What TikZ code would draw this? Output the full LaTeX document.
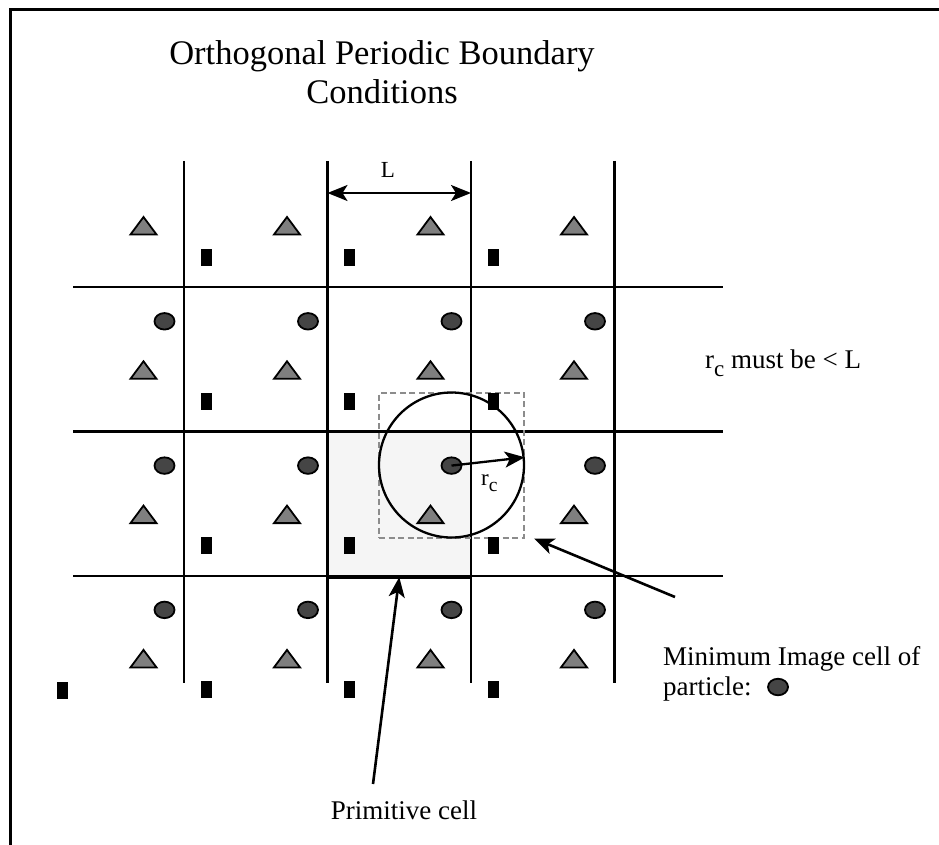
\documentclass[tikz,border=0pt]{standalone}
\usepackage{fontspec}
\setmainfont{Liberation Serif}
\usetikzlibrary{positioning, arrows.meta, shapes.geometric}
\definecolor{ballfill}{HTML}{454545}
\definecolor{trifill}{HTML}{7F7F7F}
\definecolor{dashgray}{HTML}{8C8C8C}
\definecolor{primfill}{HTML}{F5F5F5}
\newcommand{\rcsym}{r\raisebox{-0.3em}{\scalebox{0.85}{c}}}

\begin{document}
\begin{tikzpicture}[
  x=1pt, y=-1pt,
  every node/.style={inner sep=0pt},
  gridline/.style={line width=2.3pt, color=black},
  primcell/.style={
    rectangle, draw=black, line width=2.3pt,
    fill=primfill,
    minimum width=143.5pt, minimum height=144.4pt
  },
  ball/.style={
    ellipse, draw=black, line width=1.8pt,
    fill=ballfill,
    minimum width=20pt, minimum height=16.5pt
  },
  bar/.style={
    rectangle, fill=black,
    minimum width=11pt, minimum height=17pt
  },
  tri/.pic={\draw[line width=1.8pt, fill=trifill] (-13,8.5) -- (0,-9) -- (13,8.5) -- cycle;},
  mibox/.style={
    rectangle, draw=dashgray, line width=2pt,
    dash pattern=on 6pt off 3.5pt,
    minimum size=145pt
  },
  cutoff/.style={circle, draw=black, line width=2.3pt, minimum size=145pt},
  arrow/.style={-{Stealth[length=20pt, width=16pt, inset=5pt]}, line width=2.6pt, color=black},
  arrowboth/.style={{Stealth[length=20pt, width=16pt, inset=5pt]}-{Stealth[length=20pt, width=16pt, inset=5pt]}, line width=2.3pt, color=black},
  lbl/.style={font=\fontsize{27}{30}\selectfont},
  smalllbl/.style={font=\fontsize{23}{25}\selectfont},
  titlelbl/.style={font=\fontsize{34.5}{39}\selectfont}
]
\useasboundingbox (0,0) rectangle (939,845);

% =============================================================================
% Frame (top and left edges only) and title
% =============================================================================
\draw[line width=3pt] (10,845) -- (10,10) -- (939,10);
\node[titlelbl, anchor=base] (title1) at (382,65) {Orthogonal Periodic Boundary};
\node[titlelbl, anchor=base] (title2) at (382,104) {Conditions};

% =============================================================================
% Lattice of periodic images. Cells are 143.5 wide, 144.3 high.
% =============================================================================
\node[primcell] (prim) at (399.25,503.8) {};

\foreach \xv in {184, 327.5, 471, 614.5}
  \draw[gridline] (\xv,161) -- (\xv,683);
\foreach \yv in {287.3, 431.6, 576}
  \draw[gridline] (73,\yv) -- (723,\yv);
\draw[line width=3.4pt] (prim.south west) -- (prim.south east);

% --- minimum image cell and cutoff sphere round the central particle
\node[mibox] (mibox) at (451.5,465) {};
\node[cutoff] (cutoff) at (451.5,465) {};

% --- particles
\foreach \r in {0,...,3}
  \foreach \c in {0,...,3}
    \pic at ({143.5+143.5*\c}, {226+144.3*\r}) {tri};

\foreach \r in {1,2,3}
  \foreach \c in {0,...,3}
    \node[ball] (ball-\r-\c) at ({164.5+143.5*\c}, {177+144.3*\r}) {};

\foreach \r in {0,...,3}
  \foreach \c in {1,2,3}
    \node[bar] (bar-\r-\c) at ({62.5+143.5*\c}, {257+144.3*\r}) {};
\node[bar] (bar-3-0) at (62.5,690) {};

% =============================================================================
% Dimension arrows and labels
% =============================================================================
\coordinate (Lleft) at (327.5,193);
\coordinate (Lright) at (471,193);
\draw[arrowboth] (Lleft) -- (Lright);
\node[smalllbl, anchor=base] (Llbl) at (388,178) {L};

\draw[arrow, line width=2.3pt] (ball-2-2.center) -- (cutoff.6);
\node[smalllbl, anchor=base west] (rclbl) at (481,485) {\rcsym};

\node[lbl, anchor=base west] (rclim) at (705,368) {\rcsym{} must be < L};

% --- primitive cell
\node[lbl, anchor=base] (primlbl) at (404,819) {Primitive cell};
\coordinate (primtail) at (373,784);
\draw[arrow] (primtail) -- (prim.south);

% --- minimum image cell
\node[lbl, anchor=base west] (milbl) at (663,665) {Minimum Image cell of};
\node[lbl, anchor=base west] (partlbl) at (663,695) {particle:};
\node[ball] (legball) at (778,687) {};
\coordinate (mitail) at (675,597);
\draw[arrow] (mitail) -- ([xshift=9pt]mibox.south east);

\end{tikzpicture}
\end{document}
